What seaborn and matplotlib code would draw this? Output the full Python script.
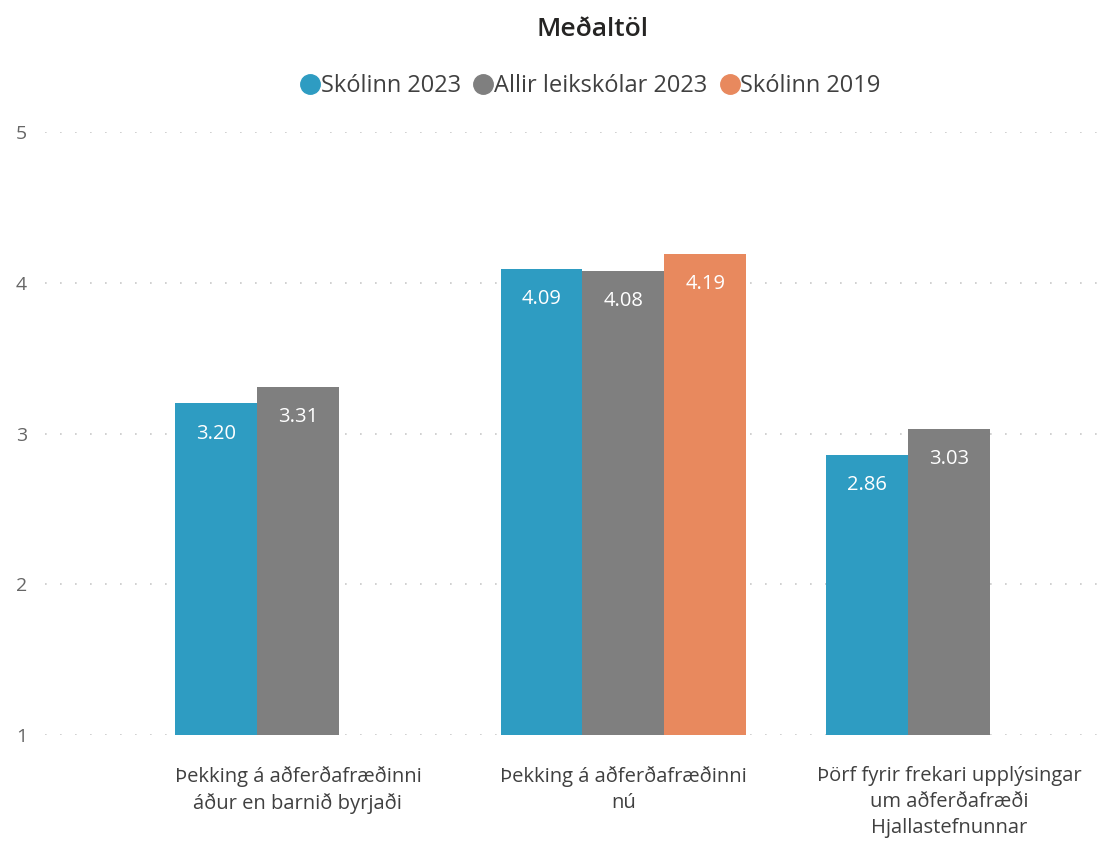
import numpy as np
import pandas as pd
import matplotlib
matplotlib.use('Agg')
import matplotlib.pyplot as plt
import seaborn as sns
from matplotlib.lines import Line2D

# -----------------------------
# Data
# -----------------------------
categories = [
    'Þekking á aðferðafræðinni\náður en barnið byrjaði',
    'Þekking á aðferðafræðinni\nnú',
    'Þörf fyrir frekari upplýsingar\num aðferðafræði\nHjallastefnunnar',
]
series_names = ['Skólinn 2023', 'Allir leikskólar 2023', 'Skólinn 2019']
skolinn_2023 = [3.20, 4.09, 2.86]
allir_2023 = [3.31, 4.08, 3.03]
skolinn_2019 = [np.nan, 4.19, np.nan]
y_ticks = [1, 2, 3, 4, 5]

colors = ['#2E9CC2', '#7F7F7F', '#E8895E']

df = pd.DataFrame({
    'Flokkur': categories * 3,
    'Röð': [series_names[0]] * 3 + [series_names[1]] * 3 + [series_names[2]] * 3,
    'Meðaltal': skolinn_2023 + allir_2023 + skolinn_2019,
})

# -----------------------------
# Plot
# -----------------------------
sns.set_style('white')
plt.rcParams['font.family'] = ['Open Sans', 'DejaVu Sans']

fig = plt.figure(figsize=(11.07, 8.49), dpi=100)
ax = fig.add_axes([45 / 1107, 1 - 735 / 849, (1100 - 45) / 1107, (735 - 132) / 849])

sns.barplot(data=df, x='Flokkur', y='Meðaltal', hue='Röð', order=categories,
            hue_order=series_names, palette=colors, width=0.755,
            saturation=1, errorbar=None, legend=False, ax=ax, zorder=3,
            linewidth=0, edgecolor='none')

for c in ax.containers:
    ax.bar_label(c, fmt='%.2f', label_type='edge', padding=-29,
                 color='white', fontsize=14.5)

ax.set_ylim(1, 5)
ax.set_xlim(-0.777, 2.464)
ax.set_yticks(y_ticks)
ax.yaxis.grid(True, color='#C8C8C8', linestyle=(0, (1, 8)), linewidth=1.2, zorder=0)
ax.xaxis.grid(False)
for s in ax.spines.values():
    s.set_visible(False)

ax.set_xlabel('')
ax.set_ylabel('')
ax.tick_params(axis='y', length=0, pad=13, labelsize=14, labelcolor='#666666')
ax.tick_params(axis='x', length=0, pad=22, labelsize=14.5, labelcolor='#404040')
for lbl in ax.get_xticklabels():
    lbl.set_linespacing(1.43)
    lbl.set_va('top')

fig.text(0.535, 1 - 30 / 849, 'Meðaltöl', ha='center', va='center',
         fontsize=19, fontweight='semibold', color='#252423')

handles = [Line2D([], [], marker='o', linestyle='', markersize=14,
                  markerfacecolor=col, markeredgecolor=col) for col in colors]
fig.legend(handles, series_names, loc='center', bbox_to_anchor=(0.533, 1 - 86 / 849),
           ncol=3, frameon=False, fontsize=17, handletextpad=0.0,
           columnspacing=0.5, labelcolor='#404040', handlelength=0.9)

plt.savefig('out.png', dpi=100)
